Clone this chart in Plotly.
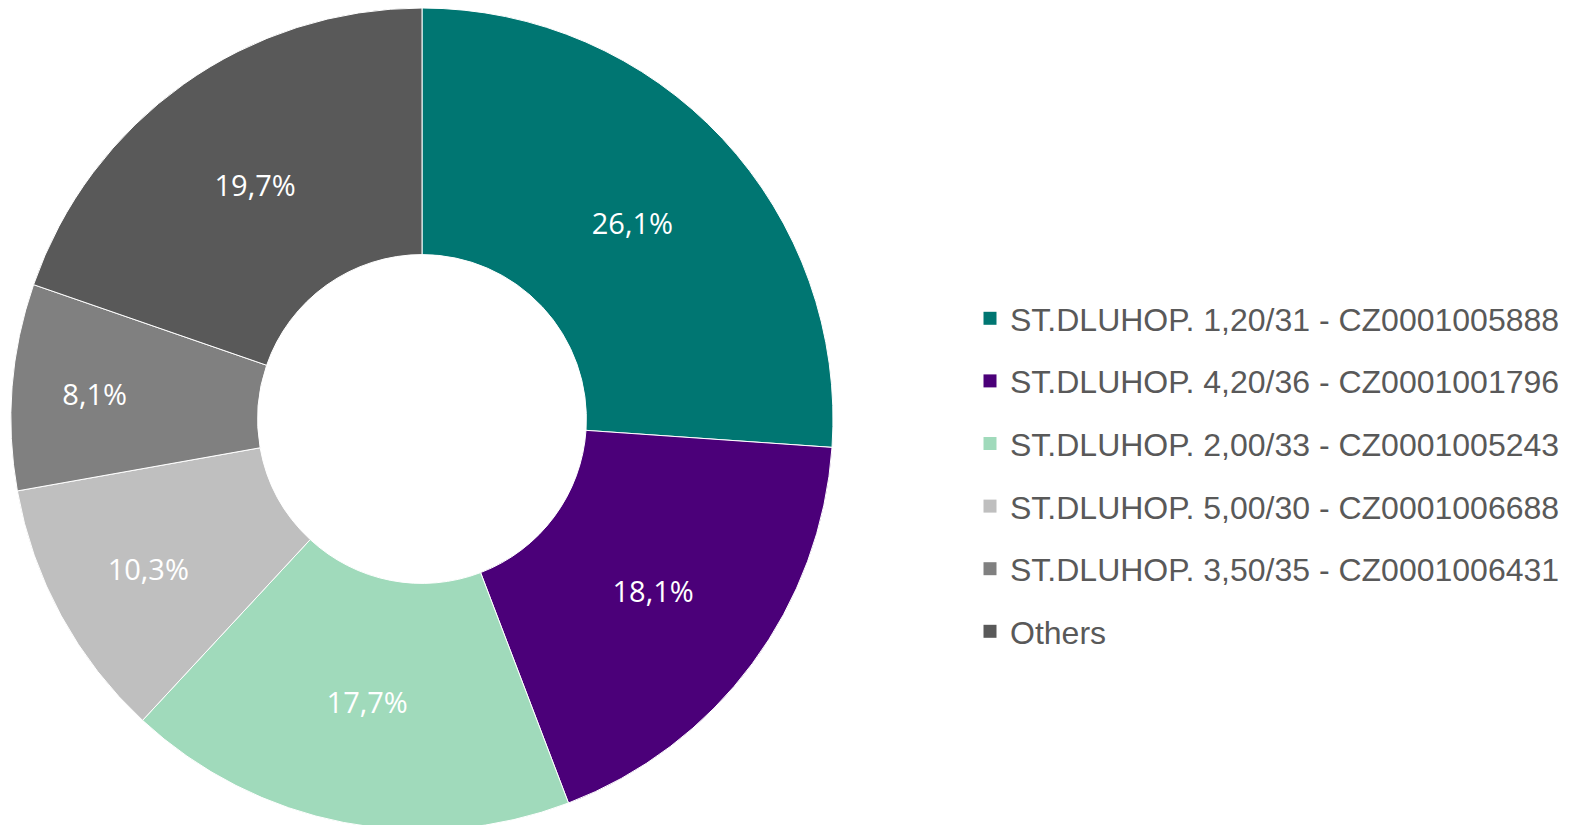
import plotly.graph_objects as go

labels = [
    "ST.DLUHOP. 1,20/31 - CZ0001005888",
    "ST.DLUHOP. 4,20/36 - CZ0001001796",
    "ST.DLUHOP. 2,00/33 - CZ0001005243",
    "ST.DLUHOP. 5,00/30 - CZ0001006688",
    "ST.DLUHOP. 3,50/35 - CZ0001006431",
    "Others",
]
values = [26.1, 18.1, 17.7, 10.3, 8.1, 19.7]
colors = ["#007672", "#4B0079", "#A0DABB", "#BFBFBF", "#808080", "#595959"]

W, H = 1573, 825
cx, cy, r = 414, 411, 411

fig = go.Figure()
fig.add_trace(go.Pie(
    labels=labels,
    values=values,
    sort=False,
    direction="clockwise",
    rotation=0,
    hole=0.4,
    marker=dict(colors=colors, line=dict(color="white", width=1)),
    texttemplate="%{value:.1f}%",
    textposition="inside",
    insidetextorientation="horizontal",
    textfont=dict(family="Open Sans", size=29, color="white"),
    showlegend=False,
    domain=dict(x=[(cx - r) / W, (cx + r) / W],
                y=[max(0, (H - cy - r) / H), min(1, (H - cy + r) / H)]),
    hoverinfo="label+percent",
))

# legend entries (one per slice) with spacing
for lab, col in zip(labels, colors):
    fig.add_trace(go.Scatter(
        x=[None], y=[None], mode="markers", name=lab, legendgroup=lab,
        marker=dict(symbol="square", size=13, color=col),
        showlegend=True,
    ))

fig.update_layout(
    width=W, height=H,
    margin=dict(l=0, r=0, t=0, b=0),
    paper_bgcolor="white", plot_bgcolor="white",
    separators=",.",
    xaxis=dict(visible=False), yaxis=dict(visible=False),
    legend=dict(
        x=962 / W, xanchor="left", y=(H - 467) / H, yanchor="middle",
        font=dict(family="Liberation Sans", size=32, color="#595959"),
        tracegroupgap=18, itemclick=False, itemdoubleclick=False,
        bgcolor="rgba(0,0,0,0)",
    ),
)

fig.write_html("out.html")
